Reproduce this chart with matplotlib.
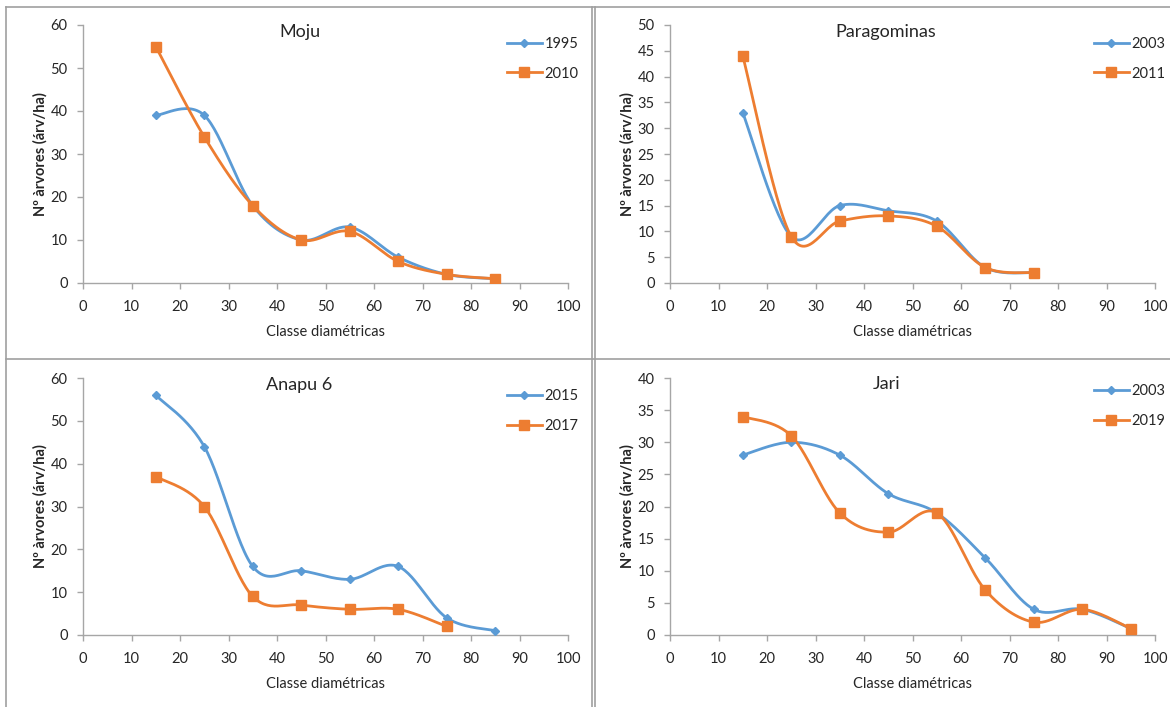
import numpy as np
import matplotlib
matplotlib.use('Agg')
import matplotlib.pyplot as plt
from matplotlib.lines import Line2D

plt.rcParams['font.family'] = ['Lato', 'DejaVu Sans']

# Data
moju_x = [15, 25, 35, 45, 55, 65, 75, 85]
moju_1995 = [39, 39, 18, 10, 13, 6, 2, 1]
moju_2010 = [55, 34, 18, 10, 12, 5, 2, 1]

parag_x = [15, 25, 35, 45, 55, 65, 75]
parag_2003 = [33, 9, 15, 14, 12, 3, 2]
parag_2011 = [44, 9, 12, 13, 11, 3, 2]

anapu_x_2015 = [15, 25, 35, 45, 55, 65, 75, 85]
anapu_2015 = [56, 44, 16, 15, 13, 16, 4, 1]
anapu_x_2017 = [15, 25, 35, 45, 55, 65, 75]
anapu_2017 = [37, 30, 9, 7, 6, 6, 2]

jari_x = [15, 25, 35, 45, 55, 65, 75, 85, 95]
jari_2003 = [28, 30, 28, 22, 19, 12, 4, 4, 1]
jari_2019 = [34, 31, 19, 16, 19, 7, 2, 4, 1]

BLUE = '#5B9BD5'
ORANGE = '#ED7D31'
TXT = '#262626'
SPINE = '#A6A6A6'

W, H = 1170, 707


def smooth(x, y, n=30):
    # Excel-like smoothed line (cubic Bezier through the points)
    pts = np.column_stack([x, y]).astype(float)
    out = []
    for i in range(len(pts) - 1):
        p0 = pts[i - 1] if i > 0 else pts[i]
        p1, p2 = pts[i], pts[i + 1]
        p3 = pts[i + 2] if i + 2 < len(pts) else pts[i + 1]
        c1 = p1 + (p2 - p0) / 6
        c2 = p2 - (p3 - p1) / 6
        t = np.linspace(0, 1, n)[:, None]
        seg = (1 - t) ** 3 * p1 + 3 * (1 - t) ** 2 * t * c1 + 3 * (1 - t) * t ** 2 * c2 + t ** 3 * p2
        out.append(seg if i == 0 else seg[1:])
    s = np.vstack(out)
    return s[:, 0], s[:, 1]


def px_rect(left, top, right, bottom):
    return [left / W, 1 - bottom / H, (right - left) / W, (bottom - top) / H]


fig = plt.figure(figsize=(11.7, 7.07), dpi=100)

# panel borders
for xs, ys in [([6, 6], [7, 707]), ([6, 1170], [7, 7]), ([592, 592], [7, 707]),
               ([595, 595], [7, 707]), ([6, 1170], [359, 359])]:
    fig.add_artist(Line2D([x / W for x in xs], [1 - y / H for y in ys],
                          color='#A0A0A0', lw=1.2))

panels = [
    dict(rect=px_rect(83, 25, 568, 283), title='Moju', tx=300, ty=32, ymax=60, ystep=10,
         s1=(moju_x, moju_1995, '1995'), s2=(moju_x, moju_2010, '2010'), ly=42),
    dict(rect=px_rect(670, 25, 1155, 283), title='Paragominas', tx=886, ty=32, ymax=50, ystep=5,
         s1=(parag_x, parag_2003, '2003'), s2=(parag_x, parag_2011, '2011'), ly=42),
    dict(rect=px_rect(83, 378, 568, 635), title='Anapu 6', tx=299, ty=385, ymax=60, ystep=10,
         s1=(anapu_x_2015, anapu_2015, '2015'), s2=(anapu_x_2017, anapu_2017, '2017'), ly=394),
    dict(rect=px_rect(670, 378, 1155, 635), title='Jari', tx=887, ty=384, ymax=40, ystep=5,
         s1=(jari_x, jari_2003, '2003'), s2=(jari_x, jari_2019, '2019'), ly=389),
]

for p in panels:
    ax = fig.add_axes(p['rect'])
    x1, y1, l1 = p['s1']
    x2, y2, l2 = p['s2']
    sx, sy = smooth(x1, y1)
    ax.plot(sx, sy, color=BLUE, lw=2, zorder=2)
    ax.plot(x1, y1, 'D', color=BLUE, ms=4.5, zorder=3)
    sx, sy = smooth(x2, y2)
    ax.plot(sx, sy, color=ORANGE, lw=2, zorder=2)
    ax.plot(x2, y2, 's', color=ORANGE, ms=6.5, zorder=3)

    ax.set_xlim(0, 100)
    ax.set_ylim(0, p['ymax'])
    ax.set_xticks(range(0, 101, 10))
    ax.set_yticks(range(0, p['ymax'] + 1, p['ystep']))
    for s in ['top', 'right']:
        ax.spines[s].set_visible(False)
    for s in ['left', 'bottom']:
        ax.spines[s].set_color(SPINE)
        ax.spines[s].set_linewidth(1)
    ax.tick_params(axis='both', colors=SPINE, labelcolor=TXT, labelsize=10.5,
                   length=4.5, width=1, direction='out')
    ax.tick_params(axis='x', pad=8)
    ax.tick_params(axis='y', pad=6.5)
    ax.set_xlabel('Classe diamétricas', fontsize=10.5, color=TXT, labelpad=8)
    ax.set_ylabel('Nº àrvores (árv/ha)', fontsize=10.5, color=TXT, fontweight='bold', labelpad=2)
    ax.patch.set_alpha(0)

    fig.text(p['tx'] / W, 1 - p['ty'] / H, p['title'], fontsize=13, color=TXT,
             ha='center', va='center')

    # legend
    pos = ax.get_position()
    lx0 = (pos.x0 * W + 421) / W
    handles = [Line2D([], [], color=BLUE, lw=2, marker='D', ms=4.5),
               Line2D([], [], color=ORANGE, lw=2, marker='s', ms=6.5)]
    fig.legend(handles, [l1, l2], loc='upper left',
               bbox_to_anchor=(lx0 - 0.004, 1 - (p['ly'] - 12) / H),
               frameon=False, fontsize=10.5, handlelength=2.4, handletextpad=0.2,
               labelspacing=1.05, borderpad=0, labelcolor=TXT)

fig.savefig('out.png', dpi=100)
